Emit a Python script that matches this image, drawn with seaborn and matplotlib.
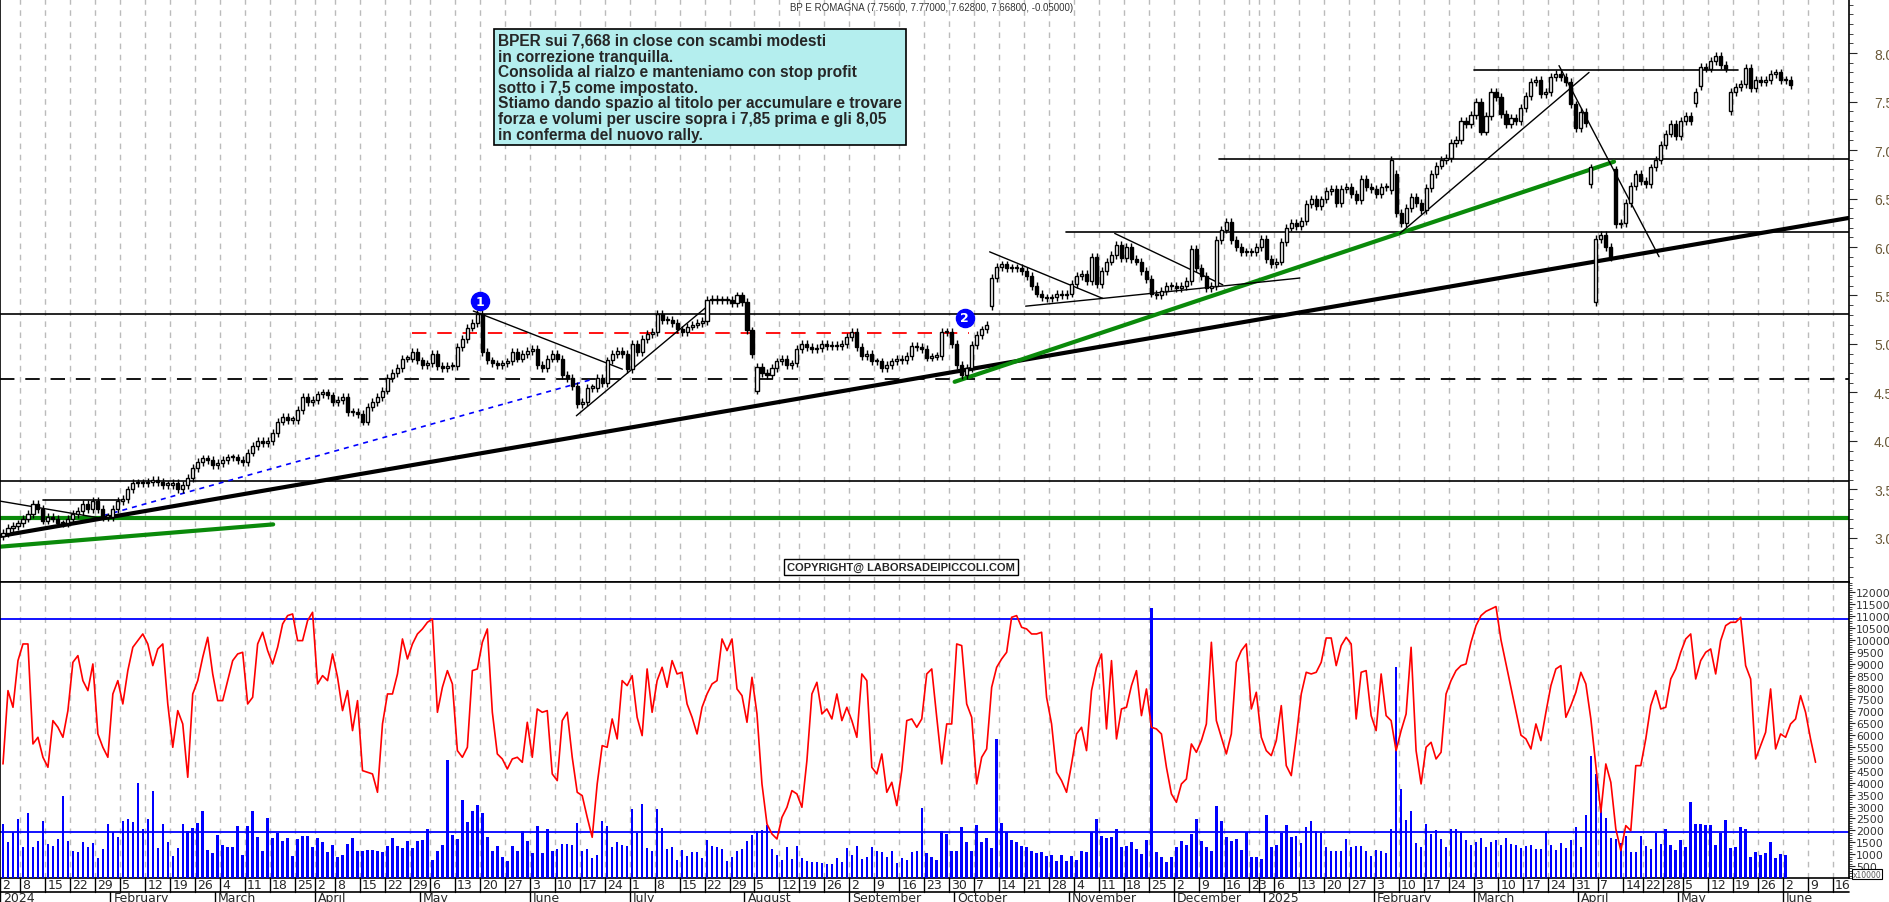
import numpy as np
import pandas as pd
import matplotlib
matplotlib.use("Agg")
import matplotlib.pyplot as plt
import matplotlib.transforms as mtransforms
import seaborn as sns

# ---------------- DATA ----------------
CLOSE_A = [3.05,3.10,3.12,3.15, 3.20,3.25,3.35,3.30,3.18, 3.22,3.20,3.15,3.15,3.20,3.25,
           3.28,3.35,3.30,3.38,3.30, 3.22,3.22,3.30,3.38,3.40, 3.50,3.57,3.57,3.57,3.58,
           3.60,3.58,3.55,3.55,3.57, 3.50,3.55,3.62,3.72,3.78, 3.82,3.80,3.75,3.77,3.80,
           3.83,3.83,3.80,3.78,3.88, 3.95,4.00,3.98,4.00,4.08, 4.20,4.25,4.22,4.22,4.32,
           4.45,4.40,4.42,4.48, 4.50,4.47,4.40,4.42, 4.45,4.30,4.30,4.28,4.20,
           4.35,4.40,4.45,4.52,4.65, 4.70,4.75,4.85,4.85,4.92, 4.83,4.78,4.80,4.90,4.77,4.75,
           4.77,4.77,4.97,5.05,5.17, 5.22,5.31]
CLOSE_B = [4.92,4.83,4.80,4.78,4.80,4.82,4.92,4.85,4.90,4.93,4.95,4.78,4.75,4.85,4.90,4.85,
           4.68,4.65,4.57,4.38,4.40,4.55,4.55,4.65,4.60,4.83,4.90,4.93,4.90,4.74,5.00,4.92,
           5.05,5.10,5.12,5.31,5.25,5.25,5.22,5.15,5.12,5.18,5.20,5.22,5.24,5.45,5.46,5.45,
           5.45,5.45,5.42,5.50,5.43,5.14,4.90,4.76,4.70,4.68,4.75,4.82,4.85,4.78,4.80,4.95,
           5.00,4.97,4.95,4.96,5.00,4.98,4.99,4.98,5.00,5.07,5.12,4.97,4.88,4.90,4.82,4.82,
           4.75,4.78,4.82,4.85,4.83,4.88,4.98,4.97,4.95,4.86,4.87,4.88,5.12,5.12,5.00,4.78]
CLOSE_C = [4.68,4.75,4.99,5.09,5.15,5.20,5.68,5.79,5.82,5.78,
           5.78,5.78,5.75,5.70,5.60,5.52,5.48,5.47,5.48,5.52,
           5.50,5.52,5.62,5.70,5.72,5.65,5.90,5.62,5.75,5.85,
           5.92,6.02,5.89,6.00,5.88,5.85,5.75,5.67,5.52,5.50,
           5.55,5.60,5.60,5.58,5.60,5.65,5.98,5.78,5.70,5.58,
           5.60,6.07,6.18,6.26,6.07,6.00,5.95,5.95,5.95,6.00,
           6.08,5.88,5.82,5.85,6.05,6.20,6.25,6.22,6.27,6.44,
           6.50,6.42,6.49,6.58,6.60,6.45,6.60,6.62,6.55,6.48,
           6.70,6.62,6.60,6.55,6.62,6.62,6.90,6.35,6.25,6.40,
           6.52,6.45,6.38,6.61,6.75,6.84,6.90,6.92,7.07]
CLOSE_D = [7.10,7.30,7.27,7.36,7.50,7.19,7.35,7.60,7.55,7.37,
           7.27,7.33,7.30,7.43,7.56,7.70,7.72,7.58,7.60,7.75,
           7.78,7.75,7.70,7.47,7.23,7.39,7.28,6.82,6.08,6.12,
           6.00,5.90,6.24,6.25,6.45,6.63,6.75,6.68,6.65,6.82,
           6.90,7.05,7.17,7.27,7.14,7.30,7.35,7.30]
CLOSE_E = [7.60,7.86,7.84,7.92,7.97,7.88,7.84,7.60,7.65,7.68,
           7.85,7.64,7.72,7.70,7.72,7.78,7.80,7.72,7.72,7.67]
GAP_IDX  = [151, 198, 278, 279, 318, 319, 323, 339, 340, 346]
GAP_OPEN = [4.52, 5.39, 6.59, 6.75, 6.65, 5.43, 6.80, 7.48, 7.66, 7.40]

OSC = [4.79,7.87,7.17,9.13,9.83,9.83,5.63,5.91,5.07,4.65,6.61,6.33,5.91,7.03,9.06,9.34,8.29,7.87,
       8.99,6.05,5.49,5.07,7.73,8.29,7.31,8.71,9.69,9.97,10.25,9.83,8.92,9.62,9.83,7.31,5.49,7.03,
       6.47,4.23,7.73,8.29,9.27,10.11,8.57,7.45,7.45,8.29,9.13,9.41,9.48,7.31,7.59,9.83,10.32,9.55,
       8.99,9.69,10.67,11.02,11.09,9.97,9.97,10.81,11.16,8.15,8.5,8.29,9.41,8.43,7.03,7.87,6.19,7.45,
       4.51,4.44,4.37,3.6,6.47,7.73,7.73,8.57,10.04,9.2,9.83,10.25,10.46,10.74,10.88,6.96,8.01,8.71,
       8.15,5.35,5.07,5.49,8.71,8.78,9.9,10.46,6.96,
       5.21,5.0,4.58,5.0,5.07,4.86,6.54,5.07,7.1,6.96,7.03,4.37,4.09,6.61,6.96,5.07,3.6,3.46,2.55,
       1.71,3.95,5.56,5.49,6.68,5.84,8.29,8.08,8.5,6.75,5.98,8.78,6.96,8.29,8.85,8.01,9.13,8.57,8.64,
       7.31,6.75,6.05,7.17,7.73,8.15,8.29,10.04,9.55,10.04,7.94,7.66,6.54,8.43,6.89,3.95,2.27,1.85,
       1.64,2.55,2.97,3.67,3.53,2.97,4.93,7.73,8.22,6.89,7.1,6.68,7.73,6.61,7.17,6.61,5.91,8.57,8.29,
       4.65,4.37,5.21,3.6,4.02,3.04,4.51,6.61,6.68,6.33,6.68,8.57,8.78,6.75,4.79,6.47,6.47,9.83,9.76,
       7.31,
       6.75,3.95,5.07,5.42,8.01,8.85,9.2,9.48,10.95,11.02,10.53,10.46,10.25,10.25,10.32,7.59,6.47,
       4.44,4.09,3.6,4.79,6.05,6.33,5.35,7.87,8.85,9.41,6.26,9.13,5.84,7.1,7.17,8.08,8.71,6.82,7.94,
       6.33,6.26,6.05,4.65,3.53,3.18,3.95,4.16,5.63,5.28,5.77,6.47,9.9,6.61,5.91,5.21,6.05,9.06,9.55,
       9.83,7.1,7.8,5.91,5.35,5.14,5.77,7.24,4.72,4.3,5.91,7.73,8.64,8.57,8.64,9.06,10.08,10.08,8.92,
       9.76,10.11,9.83,6.68,8.64,8.71,6.82,6.19,8.57,6.82,6.61,5.35,6.19,6.89,9.69,5.35,3.95,5.49,5.7,
       5.0,5.28,7.73,8.29,8.71,8.92,8.99,9.9,10.6,11.02,
       11.2,11.3,11.4,10.0,9.0,8.0,7.0,6.0,
       5.84,5.42,6.47,5.77,6.96,8.08,8.78,8.92,6.75,7.24,7.8,8.64,8.15,6.68,4.72,2.76,4.79,4.02,2.06,
       1.15,2.2,1.99,4.72,4.72,5.84,7.24,7.87,7.1,7.17,8.36,8.78,9.48,10.04,10.25,8.36,9.13,9.48,9.62,
       8.57,9.97,10.6,10.74,10.74,10.95,8.92,8.36,5.0,5.56,6.12,7.94,5.42,6.05,5.91,6.47,6.68,7.66,
       6.96,5.84,4.86]

VOL = [2.27,1.5,1.92,2.48,1.29,2.72,1.29,1.57,2.41,1.43,1.33,1.63,3.45,1.54,1.15,1.08,1.5,1.29,1.46,
       0.84,1.21,2.27,1.92,1.74,2.41,2.47,2.34,3.98,2.05,2.48,3.66,1.25,2.27,1.5,0.94,1.25,2.27,1.99,
       2.09,2.31,2.8,1.18,1.07,1.79,1.39,1.29,1.32,2.2,0.97,2.2,2.8,1.72,1.12,2.51,1.67,1.88,1.57,1.67,
       0.91,1.64,1.77,1.77,1.3,1.67,1.5,1.08,1.39,0.9,0.95,1.43,1.67,1.12,1.12,1.18,1.18,1.12,1.08,
       1.33,1.67,1.33,1.26,1.54,1.26,1.54,1.61,2.05,0.77,1.15,1.4,4.96,1.82,1.64,3.28,2.35,2.8,3.07,
       2.72,1.74,1.12,1.35,0.87,0.73,1.33,1.12,1.99,1.54,1.04,2.17,1.04,2.05,1.12,1.21,1.43,1.43,1.37,
       2.3,1.12,1.21,0.84,0.98,2.41,2.19,1.29,1.51,1.39,1.36,2.89,1.88,3.11,1.26,1.12,2.89,2.1,1.21,
       1.29,0.74,1.18,0.94,1.08,1.08,0.84,1.61,1.33,1.29,1.21,0.73,0.9,1.12,1.21,1.54,1.82,1.99,2.02,
       2.24,1.21,0.95,0.76,1.29,0.79,1.33,0.84,0.73,0.66,0.66,0.63,0.59,0.59,0.84,0.66,1.26,0.98,1.33,
       0.8,0.9,1.29,1.12,1.08,0.9,1.12,0.62,0.84,0.76,1.08,1.12,2.94,1.05,0.87,0.76,1.96,1.85,1.15,
       1.12,2.13,1.51,1.15,2.23,1.51,1.67,1.25,5.84,2.3,1.92,1.6,1.5,1.33,1.29,1.12,1.07,1.08,0.93,
       0.95,0.73,0.98,0.73,0.91,0.76,1.12,1.09,1.92,2.48,1.75,1.67,1.74,2.06,1.29,1.33,1.51,1.21,1.01,
       1.61,11.34,1.11,0.87,0.66,0.87,1.29,1.54,1.39,1.85,2.48,1.57,1.29,1.12,3.03,2.38,1.71,1.54,1.64,
       1.18,1.92,0.87,0.87,0.79,2.65,1.29,1.39,1.88,2.24,1.72,1.75,1.46,2.16,2.38,1.96,1.89,1.29,1.12,
       1.12,1.12,1.63,1.29,1.35,1.36,1.12,0.91,1.18,1.12,1.07,2.06,8.85,3.75,2.44,2.8,1.46,1.29,2.27,
       1.85,2.0,1.63,1.29,2.05,2.05,1.96,
       1.6,1.4,1.5,1.7,1.3,1.5,1.6,1.4,
       1.67,1.43,1.4,1.25,1.36,1.39,1.22,1.22,1.96,1.4,1.19,1.47,1.25,1.61,2.13,1.29,2.65,5.11,4.37,
       2.94,2.51,1.67,1.64,1.47,1.75,1.08,1.08,1.75,1.33,1.22,1.89,1.44,2.06,1.39,1.19,1.61,1.29,3.18,
       2.26,2.27,2.24,2.24,1.4,1.88,2.45,1.25,1.29,2.13,2.06,0.9,1.08,0.97,1.04,1.5,0.84,1.01,0.97]

HOLIDAYS = ["2024-03-29", "2024-04-01", "2024-05-01", "2024-08-15", "2024-12-24", "2024-12-25",
            "2024-12-26", "2024-12-31", "2025-01-01", "2025-04-18", "2025-04-21", "2025-05-01"]
MONTHS = ["2024", "February", "March", "April", "May", "June", "July", "August", "September",
          "October", "November", "December", "2025", "February", "March", "April", "May", "June"]
TITLE = "BP E ROMAGNA (7.75600, 7.77000, 7.62800, 7.66800, -0.05000)"
NOTE = ("BPER sui 7,668 in close con scambi modesti\n"
        "in correzione tranquilla.\n"
        "Consolida al rialzo e manteniamo con stop profit\n"
        "sotto i 7,5 come impostato.\n"
        "Stiamo dando spazio al titolo per accumulare e trovare\n"
        "forza e volumi per uscire sopra i 7,85 prima e gli 8,05\n"
        "in conferma del nuovo rally.")

# ---------------- PREP ----------------
close = np.array(CLOSE_A + CLOSE_B + CLOSE_C + CLOSE_D + CLOSE_E)
opn = np.concatenate([[close[0] - 0.03], close[:-1]])
for i, o in zip(GAP_IDX, GAP_OPEN):
    opn[i] = o
n = len(close)
dates = pd.bdate_range("2024-01-02", "2025-06-20")
dates = dates[~dates.isin(pd.to_datetime(HOLIDAYS))]
xi = np.arange(n)

sns.set_style("white")
fig = plt.figure(figsize=(18.9, 9.03), dpi=100)
ax = fig.add_axes([0, 1 - 583 / 903, 1849 / 1890, 583 / 903])
axv = fig.add_axes([0, 1 - 879 / 903, 1849 / 1890, (879 - 583) / 903], sharex=ax)

XMAX = len(dates) - 2.3
for a in (ax, axv):
    a.set_xlim(-0.6, XMAX)
    for s in a.spines.values():
        s.set_color("black"); s.set_linewidth(1.2)

week_start = [i for i in range(len(dates)) if i == 0 or dates[i].weekday() < dates[i - 1].weekday()]
for a in (ax, axv):
    for w in week_start[1:]:
        a.axvline(w - 0.5, color="#bbbbbb", lw=1, ls=(0, (4, 4)), zorder=0)

# ---------------- PRICE PANEL ----------------
ax.set_ylim(2.546, 8.557)
WICK = 0.04
up = close >= opn
lo = np.minimum(opn, close); hi = np.maximum(opn, close)
ax.vlines(xi, lo - WICK, hi + WICK, color="black", lw=1, zorder=3)
ax.bar(xi, np.maximum(hi - lo, 0.012), bottom=lo, width=0.62,
       color=np.where(up, "white", "black"), edgecolor="black", linewidth=1, zorder=4)

def xat(px):
    return (px - 3) / 4.99

ax.axhline(5.31, color="black", lw=1.2, zorder=2)
ax.axhline(3.59, color="black", lw=1.2, zorder=2)
ax.axhline(4.64, color="black", lw=1.3, ls=(0, (8, 6)), zorder=2)
ax.axhline(3.21, color="#0a8a0a", lw=3, zorder=2)
ax.plot([xat(412), xat(968)], [5.11, 5.11], color="red", lw=1.3, ls=(0, (8, 6)), zorder=2)
ax.plot([xat(1065), XMAX], [6.15, 6.15], color="black", lw=1.2)
ax.plot([xat(1218), XMAX], [6.91, 6.91], color="black", lw=1.2)
ax.plot([xat(1473), xat(1737)], [7.83, 7.83], color="black", lw=1.2)
ax.plot([xat(43), xat(120)], [3.39, 3.39], color="black", lw=1.2)
ax.plot([xat(0), XMAX], [3.02, 6.30], color="black", lw=3, zorder=2)
ax.plot([xat(0), xat(273)], [2.91, 3.14], color="#0a8a0a", lw=3, zorder=2)
ax.plot([xat(954), xat(1613)], [4.61, 6.88], color="#0a8a0a", lw=3, zorder=2)
ax.plot([xat(103), xat(590)], [3.23, 4.63], color="blue", lw=1.2, ls=(0, (3, 3)), zorder=2)
ax.plot([xat(0), xat(103)], [3.38, 3.20], color="black", lw=1)
ax.plot([xat(473), xat(622)], [5.34, 4.74], color="black", lw=1)
ax.plot([xat(576), xat(707)], [4.26, 5.39], color="black", lw=1)
ax.plot([xat(989), xat(1102)], [5.95, 5.47], color="black", lw=1)
ax.plot([xat(1025), xat(1102)], [5.39, 5.47], color="black", lw=1)
ax.plot([xat(1102), xat(1299)], [5.47, 5.68], color="black", lw=1)
ax.plot([xat(1114), xat(1222)], [6.14, 5.61], color="black", lw=1)
ax.plot([xat(1399), xat(1588)], [6.14, 7.80], color="black", lw=1)
ax.plot([xat(1558), xat(1658)], [7.87, 5.90], color="black", lw=1)

for px, py, lab in [(480, 5.44, "1"), (964, 5.27, "2")]:
    ax.scatter([xat(px)], [py], s=170, color="blue", zorder=6)
    ax.text(xat(px), py, lab, color="white", fontsize=9, fontweight="bold",
            ha="center", va="center", zorder=7)

ax.text(498 / 1849, 1 - 34 / 583, NOTE, transform=ax.transAxes, ha="left", va="top",
        fontsize=11.2, fontweight="bold", family="Liberation Sans", linespacing=1.05,
        bbox=dict(boxstyle="square,pad=0.25", fc="#b4eeee", ec="black", lw=1.2), zorder=8)
ax.text(790 / 1849, 1 - 8 / 583, TITLE, transform=ax.transAxes, ha="left", va="center",
        fontsize=7, family="Liberation Sans", color="#333333")
ax.text(787 / 1849, 1 - 568 / 583, "COPYRIGHT@ LABORSADEIPICCOLI.COM", transform=ax.transAxes,
        ha="left", va="center", fontsize=8, fontweight="bold", family="Liberation Sans",
        bbox=dict(boxstyle="square,pad=0.25", fc="white", ec="black", lw=1), zorder=8)

ax.yaxis.tick_right()
ax.set_yticks(np.arange(3.0, 8.01, 0.5))
ax.set_yticks(np.arange(2.6, 8.55, 0.1), minor=True)
ax.set_yticklabels([f"{v:.1f}" for v in np.arange(3.0, 8.01, 0.5)])
ax.tick_params(axis="y", which="major", length=6, pad=12, labelsize=10, labelcolor="#6b5a3a", right=True)
ax.tick_params(axis="y", which="minor", length=3, right=True)
ax.tick_params(axis="x", bottom=False, labelbottom=False)
for lab in ax.get_yticklabels():
    lab.set_fontfamily("Liberation Sans")

# ---------------- VOLUME / OSC PANEL ----------------
axv.set_ylim(0, 12432)
vol = np.array(VOL) * 1000
osc = np.array(OSC) * 1000
axv.bar(np.arange(len(vol)), vol, width=0.5, color="blue", linewidth=0, antialiased=False, zorder=3)
sns.lineplot(x=np.arange(len(osc)), y=osc, ax=axv, color="red", lw=1.2, zorder=4)
axv.axhline(10880, color="blue", lw=1.3, zorder=2)
axv.axhline(1930, color="blue", lw=1.3, zorder=2)
axv.yaxis.tick_right()
axv.set_yticks(np.arange(500, 12001, 500))
axv.set_yticks(np.arange(0, 12401, 100), minor=True)
axv.set_yticklabels([str(v) for v in range(500, 12001, 500)])
axv.tick_params(axis="y", which="major", length=4, pad=1, labelsize=7.8, labelcolor="#333333", right=True)
axv.tick_params(axis="y", which="minor", length=2, right=True)
for lab in axv.get_yticklabels():
    lab.set_fontfamily("Liberation Sans Narrow")
axv.text(1.002, 0.005, "x10000", transform=axv.transAxes, fontsize=5.5, color="#555555",
         bbox=dict(boxstyle="square,pad=0.1", fc="white", ec="black", lw=0.8))
axv.set_ylabel(""); axv.set_xlabel("")

axv.tick_params(axis="x", bottom=False, labelbottom=False)
tr = mtransforms.blended_transform_factory(axv.transData, axv.transAxes)
h = 296.0
axv.plot([-0.6, XMAX], [-14 / h, -14 / h], transform=tr, color="black", lw=1.2, clip_on=False)
prev = -10
for w in week_start:
    axv.plot([w - 0.5, w - 0.5], [0, -14 / h], transform=tr, color="black", lw=1, clip_on=False)
    if w - prev > 2:
        axv.text(w - 0.1, -7 / h, str(dates[w].day), transform=tr, ha="left", va="center",
                 fontsize=9, family="Liberation Sans Narrow", clip_on=False)
    prev = w
month_start = [i for i in range(len(dates)) if i == 0 or dates[i].month != dates[i - 1].month]
for k, m in enumerate(month_start):
    axv.plot([m - 0.5, m - 0.5], [-14 / h, -25 / h], transform=tr, color="black", lw=1, clip_on=False)
    axv.text(m + 0.1, -19.5 / h, MONTHS[k], transform=tr, ha="left", va="center",
             fontsize=9, family="Liberation Sans Narrow", clip_on=False)

fig.savefig("out.png", dpi=100)
